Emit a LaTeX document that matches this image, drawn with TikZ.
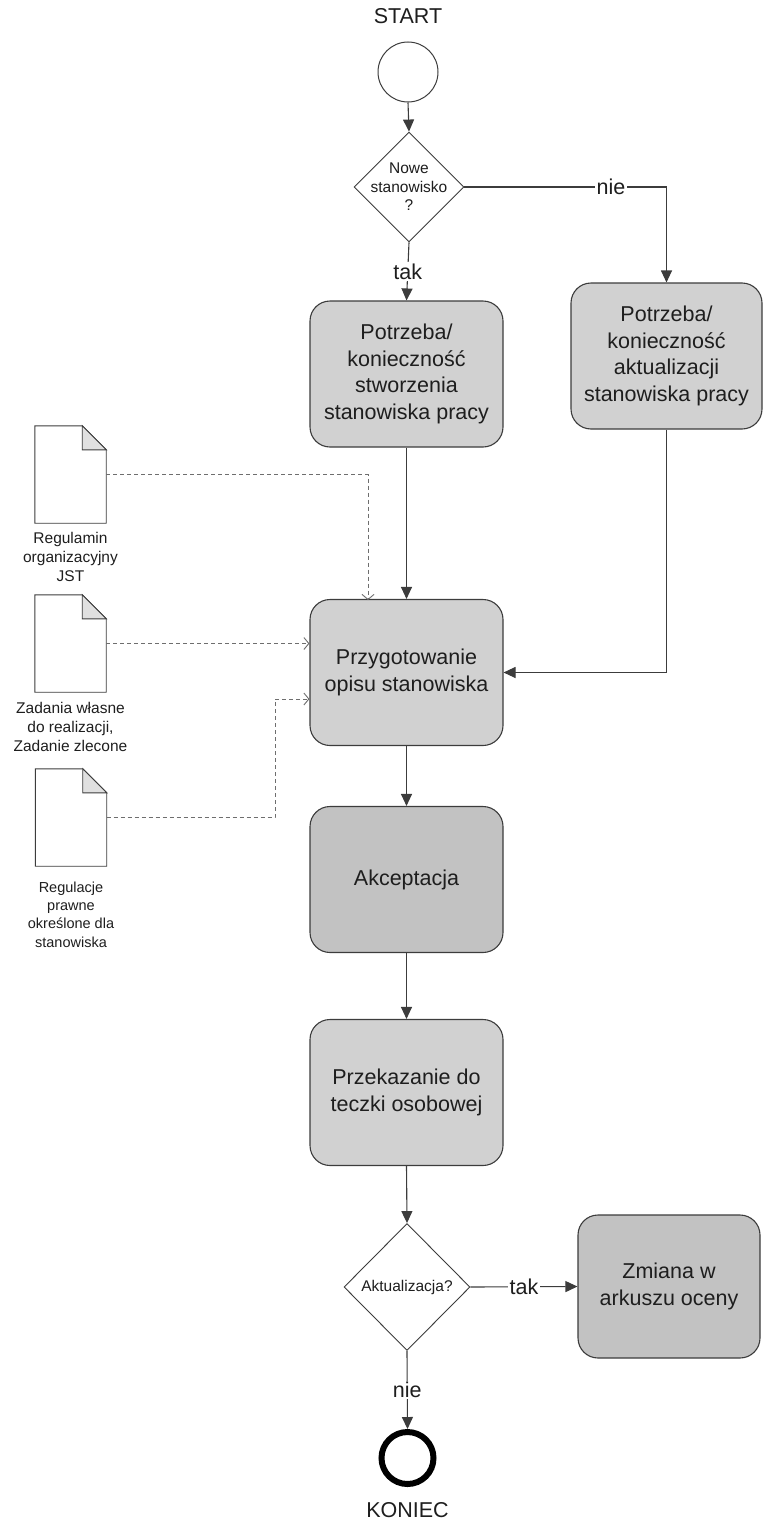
\documentclass[tikz,border=0pt]{standalone}
\usepackage{fontspec}
\setmainfont{Liberation Sans}
\usetikzlibrary{arrows.meta,shapes.geometric}
\definecolor{boxfill}{HTML}{D1D1D1}
\definecolor{boxdark}{HTML}{C2C2C2}
\definecolor{linec}{HTML}{3C3C3C}
\definecolor{dashc}{HTML}{6E6E6E}
\definecolor{foldc}{HTML}{E0E0E0}
\definecolor{txtc}{HTML}{1E1E1E}
\begin{document}
\begin{tikzpicture}[x=1pt,y=-1pt,
  proc/.style={draw=linec, line width=1.1pt, fill=boxfill, rounded corners=20pt,
    minimum width=193pt, minimum height=146pt, align=center, inner sep=2pt,
    text=txtc, font=\fontsize{21.5}{26.5}\selectfont},
  dec/.style={diamond, draw=linec, line width=0.9pt, fill=white, aspect=1, inner sep=0pt},
  dectxt/.style={align=center, text=txtc, font=\fontsize{15.5}{18.5}\selectfont},
  big/.style={text=txtc, font=\fontsize{21.5}{26}\selectfont, inner sep=1pt},
  elbl/.style={fill=white, text=txtc, font=\fontsize{21.5}{26}\selectfont, inner sep=1.5pt},
  arr/.style={draw=linec, line width=1.1pt, -{Triangle[length=12pt,width=11pt]}},
  darr/.style={draw=dashc, line width=0.9pt, dash pattern=on 4pt off 3pt,
    -{Straight Barb[length=5pt,width=12pt]}},
  docbox/.style={minimum width=71pt, minimum height=97pt, inner sep=0pt},
  docshape/.style={draw=linec, line width=0.9pt, fill=white},
  doctxt/.style={align=center, text=txtc, font=\fontsize{15.5}{19.2}\selectfont}
]
\useasboundingbox (0,0) rectangle (766,1520);

% start / end
\node[big] (starttxt) at (408,16) {START};
\node[circle, draw=linec, line width=1pt, fill=white, minimum size=60pt, inner sep=0pt] (start) at (408,72) {};
\node[circle, draw=black, line width=6pt, fill=white, minimum size=52pt, inner sep=0pt] (end) at (407.5,1458) {};
\node[big] (endtxt) at (407.5,1510) {KONIEC};

% decisions
\node[dec, minimum width=110pt, minimum height=110pt,
  label={[dectxt]center:Nowe\\stanowisko\\?}] (d1) at (409,187) {};
\node[dec, minimum width=126pt, minimum height=127pt,
  label={[dectxt]center:Aktualizacja?}] (d2) at (407,1287) {};

% processes
\node[proc] (p1) at (406.5,374) {Potrzeba/\\konieczność\\stworzenia\\stanowiska pracy};
\node[proc, minimum width=191pt] (p2) at (666.5,356) {Potrzeba/\\konieczność\\aktualizacji\\stanowiska pracy};
\node[proc] (prep) at (406.5,672.5) {Przygotowanie\\opisu stanowiska};
\node[proc, fill=boxdark] (akc) at (406.5,879.5) {Akceptacja};
\node[proc] (prz) at (406.5,1092.5) {Przekazanie do\\teczki osobowej};
\node[proc, fill=boxdark, minimum width=182pt, minimum height=143pt] (zm) at (669,1286.5) {Zmiana w\\arkuszu oceny};

% documents
\node[docbox] (doc1) at (70.5,474.5) {};
\node[docbox] (doc2) at (70.5,643.5) {};
\node[docbox] (doc3) at (71,817.5) {};
\foreach \d in {doc1,doc2,doc3}{
  \draw[docshape] (\d.north west) -- ([xshift=-24pt]\d.north east) -- ([yshift=-24pt]\d.north east)
     -- (\d.south east) -- (\d.south west) -- cycle;
  \draw[docshape, fill=foldc] ([xshift=-24pt]\d.north east) -- ([xshift=-24pt,yshift=-24pt]\d.north east)
     -- ([yshift=-24pt]\d.north east) -- cycle;
}
\node[doctxt] (t1) at (70.5,557) {Regulamin\\organizacyjny\\JST};
\node[doctxt] (t2) at (70.5,727) {Zadania własne\\do realizacji,\\Zadanie zlecone};
\node[doctxt, font=\fontsize{14.5}{18.3}\selectfont] (t3) at (71,914.5) {Regulacje\\prawne\\określone dla\\stanowiska};

% main flow
\draw[arr] (start.south) -- (d1.north);
\draw[arr] (d1.south) -- node[elbl] {tak} (p1.north);
\draw[arr] (d1.east) -- node[elbl, pos=0.725] {nie} (d1.east -| p2.north) -- (p2.north);
\draw[arr] (p1.south) -- (prep.north);
\draw[arr] (p2.south) |- (prep.east);
\draw[arr] (prep.south) -- (akc.north);
\draw[arr] (akc.south) -- (prz.north);
\draw[arr] (prz.south) -- (d2.north);
\draw[arr] (d2.east) -- node[elbl] {tak} (zm.west);
\draw[arr] (d2.south) -- node[elbl] {nie} (end.north);

% data flows
\coordinate (c1) at (368,600);
\coordinate (c3) at (275,699);
\draw[darr] (doc1.east) -| (c1);
\draw[darr] (doc2.east) -- (doc2.east -| prep.west);
\draw[darr] (doc3.east) -| (c3) -- (c3 -| prep.west);
\end{tikzpicture}
\end{document}
